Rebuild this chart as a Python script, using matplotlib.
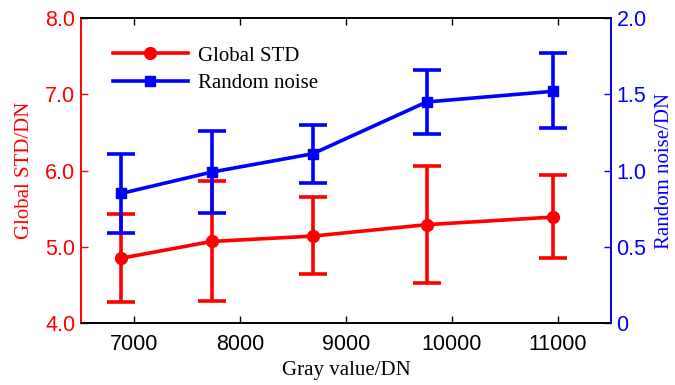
import matplotlib
matplotlib.use("Agg")
import matplotlib.pyplot as plt
from matplotlib.lines import Line2D

gray = [6880, 7733, 8686, 9761, 10955]

std_mean = [4.85, 5.07, 5.14, 5.29, 5.39]
std_lo = [4.27, 4.29, 4.64, 4.53, 4.85]
std_hi = [5.43, 5.86, 5.65, 6.06, 5.94]

noise_mean = [0.85, 0.99, 1.11, 1.45, 1.52]
noise_lo = [0.59, 0.72, 0.92, 1.24, 1.28]
noise_hi = [1.11, 1.26, 1.30, 1.66, 1.77]

SANS = ["Liberation Sans", "DejaVu Sans"]
SERIF = ["Liberation Serif", "DejaVu Serif"]
RED, BLUE = "#ff0000", "#0000ff"

fig = plt.figure(figsize=(6.75, 3.85), dpi=100)
ax = fig.add_axes([0.12, 0.161, 0.785, 0.792])
ax2 = ax.twinx()

err_std = [[m - l for m, l in zip(std_mean, std_lo)], [h - m for m, h in zip(std_mean, std_hi)]]
err_noise = [[m - l for m, l in zip(noise_mean, noise_lo)], [h - m for m, h in zip(noise_mean, noise_hi)]]

ax.errorbar(gray, std_mean, yerr=err_std, color=RED, lw=2.6, marker="o", ms=8.5,
            capsize=10, capthick=2.6, elinewidth=2.6)
ax2.errorbar(gray, noise_mean, yerr=err_noise, color=BLUE, lw=2.6, marker="s", ms=7,
             capsize=10, capthick=2.6, elinewidth=2.6)

ax.set_xlim(6500, 11500)
ax.set_ylim(4, 8)
ax2.set_ylim(0, 2)
ax.set_xticks([7000, 8000, 9000, 10000, 11000])
ax.set_yticks([4, 5, 6, 7, 8])
ax.set_yticklabels(["4.0", "5.0", "6.0", "7.0", "8.0"])
ax2.set_yticks([0, 0.5, 1.0, 1.5, 2.0])
ax2.set_yticklabels(["0", "0.5", "1.0", "1.5", "2.0"])

ax.tick_params(axis="x", direction="in", top=True, length=5, width=1, labelsize=15.5, pad=8)
ax.tick_params(axis="y", direction="in", length=5, width=1, colors=RED, labelsize=15.5, pad=4)
ax2.tick_params(axis="y", direction="in", length=5, width=1, colors=BLUE, labelsize=15.5, pad=4)
for lbl in ax.get_xticklabels() + ax.get_yticklabels() + ax2.get_yticklabels():
    lbl.set_fontfamily(SANS)

ax.spines["left"].set_color(RED)
ax2.spines["left"].set_color(RED)
ax2.spines["right"].set_color(BLUE)
for a in (ax, ax2):
    for s in a.spines.values():
        s.set_linewidth(1.2)

ax.set_xlabel("Gray value/DN", fontfamily=SERIF, fontsize=15, labelpad=4)
ax.set_ylabel("Global STD/DN", fontfamily=SERIF, fontsize=15, color=RED, labelpad=8)
ax2.set_ylabel("Random noise/DN", fontfamily=SERIF, fontsize=15, color=BLUE, labelpad=6)

handles = [Line2D([], [], color=RED, lw=2.6, marker="o", ms=8.5),
           Line2D([], [], color=BLUE, lw=2.6, marker="s", ms=7)]
ax.legend(handles, ["Global STD", "Random noise"], loc="upper left", frameon=False,
          handlelength=3.6, handletextpad=0.5, bbox_to_anchor=(0.025, 0.97),
          prop={"family": SERIF, "size": 15}, labelspacing=0.4)

fig.savefig("out.png", dpi=100)
